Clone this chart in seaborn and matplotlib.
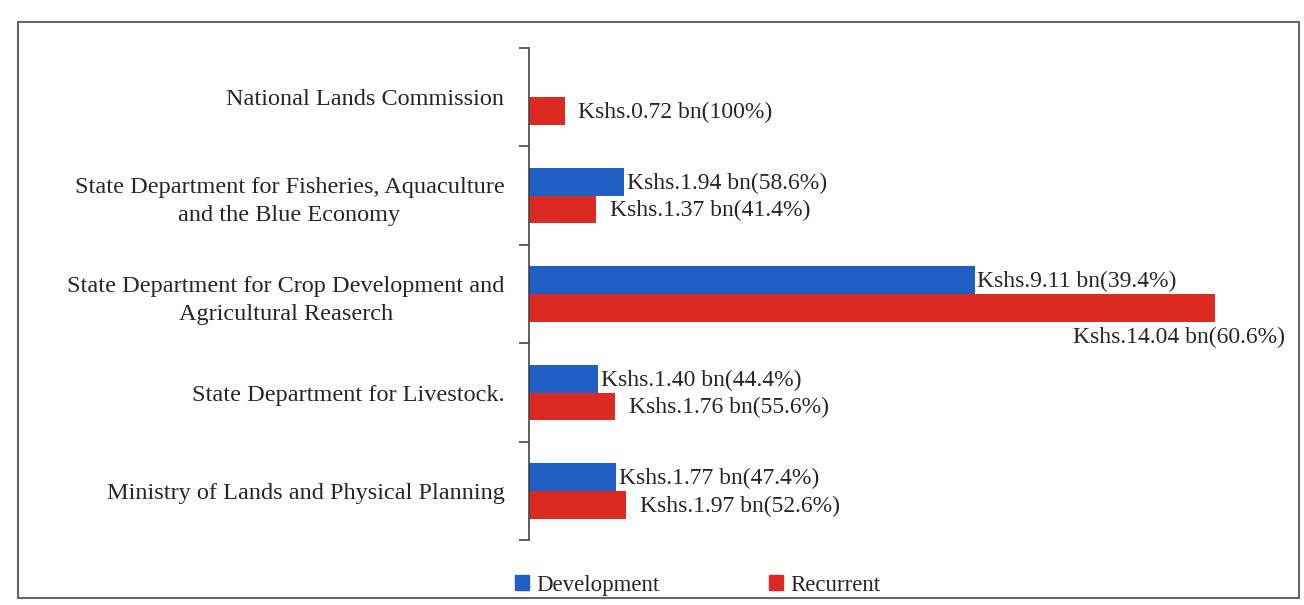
import matplotlib
matplotlib.use("Agg")
import matplotlib.pyplot as plt
import matplotlib.patches as mpatches
import numpy as np
import pandas as pd
import seaborn as sns

categories = [
    "National Lands Commission",
    "State Department for Fisheries, Aquaculture\nand the Blue Economy",
    "State Department for Crop Development and\nAgricultural Reaserch",
    "State Department for Livestock.",
    "Ministry of Lands and Physical Planning",
]
development = [np.nan, 1.94, 9.11, 1.40, 1.77]
recurrent = [0.72, 1.37, 14.04, 1.76, 1.97]
dev_labels = ["", "Kshs.1.94 bn(58.6%)", "Kshs.9.11 bn(39.4%)",
              "Kshs.1.40 bn(44.4%)", "Kshs.1.77 bn(47.4%)"]
rec_labels = ["Kshs.0.72 bn(100%)", "Kshs.1.37 bn(41.4%)", "Kshs.14.04 bn(60.6%)",
              "Kshs.1.76 bn(55.6%)", "Kshs.1.97 bn(52.6%)"]

blue = "#1f5fc6"
red = "#dc2a22"
font = "Liberation Serif"

df = pd.DataFrame({
    "category": categories * 2,
    "budget": development + recurrent,
    "type": ["Development"] * 5 + ["Recurrent"] * 5,
})

sns.set_style("white")
plt.rcParams["font.family"] = [font, "DejaVu Serif"]

fig = plt.figure(figsize=(13.04, 6.05), dpi=100)
ax = fig.add_axes([0.406, 0.107, 0.562, 0.814])

sns.barplot(data=df, y="category", x="budget", hue="type", order=categories,
            hue_order=["Development", "Recurrent"], palette=[blue, red],
            width=0.56, saturation=1, linewidth=0, legend=False, ax=ax)

ax.set_xlim(0, 15)
ax.set_ylim(4.5, -0.5)

# labels for each bar, matched on its category slot
labels = {"Development": dev_labels, "Recurrent": rec_labels}
for cont, name in zip(ax.containers, ["Development", "Recurrent"]):
    for p in cont.patches:
        w = p.get_width()
        if not np.isfinite(w) or w == 0:
            continue
        yc = p.get_y() + p.get_height() / 2
        idx = int(round(yc))
        txt = labels[name][idx]
        if w == max(recurrent):
            ax.annotate(txt, (w, yc), xytext=(50, -21), textcoords="offset points",
                        ha="right", va="center", fontsize=17, family=font)
        else:
            off = 10 if name == "Recurrent" else 2
            ax.annotate(txt, (w, yc), xytext=(off, -1), textcoords="offset points",
                        ha="left", va="center", fontsize=17, family=font)

# boundaries as ticks, names as minor ticks
ax.set_yticks(np.arange(-0.5, 5, 1))
ax.set_yticklabels([])
ax.set_yticks(range(len(categories)), minor=True)
ax.set_yticklabels(categories, minor=True, fontsize=17.5, family=font)
for t in ax.get_yticklabels(minor=True):
    t.set_multialignment("center")
    t.set_linespacing(1.45)
ax.tick_params(axis="y", which="major", length=7, width=1.2, color="#444444", direction="out", left=True)
ax.tick_params(axis="y", which="minor", length=0, pad=18)
ax.set_xticks([])
ax.set_xlabel("")
ax.set_ylabel("")
sns.despine(ax=ax, top=True, right=True, bottom=True)
ax.spines["left"].set_color("#444444")
ax.spines["left"].set_linewidth(1.2)

handles = [mpatches.Patch(color=blue, label="Development"),
           mpatches.Patch(color=red, label="Recurrent")]
fig.legend(handles=handles, loc="center", bbox_to_anchor=(0.535, 0.033), ncol=2,
           frameon=False, handlelength=0.6, handleheight=0.6, handletextpad=0.3,
           columnspacing=4.8, prop={"family": font, "size": 16.5})

fig.patches.append(mpatches.Rectangle((0.014, 0.012), 0.982, 0.952, transform=fig.transFigure,
                                      fill=False, edgecolor="#666666", linewidth=1.5))

fig.savefig("out.png", dpi=100)
